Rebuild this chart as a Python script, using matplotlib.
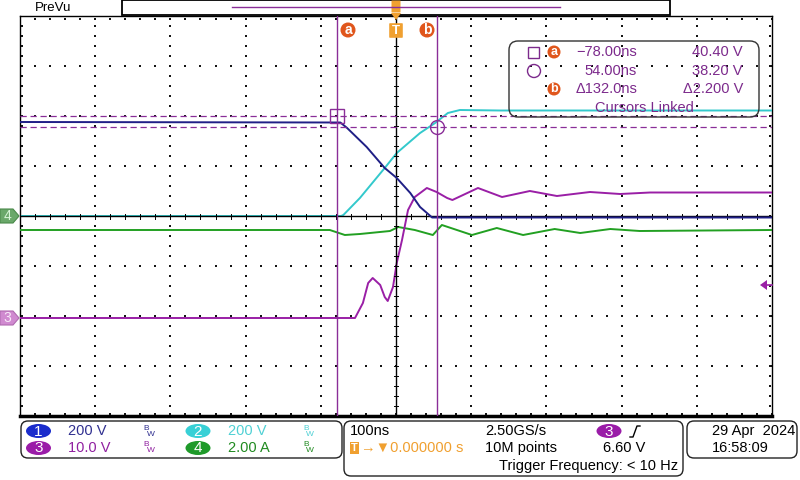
import numpy as np
import matplotlib
matplotlib.use('Agg')
import matplotlib.pyplot as plt
from matplotlib.patches import Rectangle, FancyBboxPatch, Circle, Polygon, Ellipse

plt.rcParams['font.family'] = ['Liberation Sans', 'DejaVu Sans']

# scope settings
t_div = 100          # ns/div
ch_scale = {1: 200, 2: 200, 3: 10, 4: 2.00}      # per div
ch_offset = {1: 0.0, 2: 0.0, 3: -2.04, 4: 0.0}   # ground marker position [div]
ch_color = {1: '#1f1f86', 2: '#33c9cc', 3: '#9a1fa6', 4: '#22a022'}

# waveforms (time [ns], value in channel units)
t1 = [-500, -74, -65, -39, -15, 1, 19, 32, 48, 500]
v1 = [376, 374, 352, 276, 192, 152, 92, 36, -6, -6]

t2 = [-500, -73, -70, -48, -15, 1, 32, 52, 69, 85, 138, 500]
v2 = [0, 0, 4, 72, 192, 252, 332, 372, 412, 424, 422, 422]

t3 = [-500, -54.5, -44, -37, -31, -21, -15, -11, -4, 1, 8, 16, 25, 41, 54, 68, 75,
      109, 141, 178, 214, 258, 298, 338, 500]
v3 = [0, 0, 3.0, 7.0, 8.0, 6.6, 4.2, 3.4, 6.2, 11.0, 15.6, 21.6, 24.2, 26.0, 25.2, 24.0, 23.6,
      26.0, 24.2, 25.4, 24.4, 25.2, 24.8, 25.1, 25.1]

t4 = [-500, -88, -68, -48, -8, 3, 25, 49, 61, 101, 134, 169, 211, 245, 285, 324, 500]
v4 = [-0.56, -0.56, -0.76, -0.72, -0.60, -0.44, -0.56, -0.76, -0.36, -0.76, -0.48,
      -0.76, -0.52, -0.68, -0.52, -0.60, -0.56]

# cursors (on channel 3)
cur_a = (-78.00, 40.40)
cur_b = (54.00, 38.20)
trig_level = 6.60

readout = [('−78.00ns', '40.40 V'), ('54.00ns', '38.20 V'), ('Δ132.0ns', 'Δ2.200 V')]
ch_labels = [('1', '200 V'), ('2', '200 V'), ('3', '10.0 V'), ('4', '2.00 A')]


def to_div(ch, v):
    return np.asarray(v) / ch_scale[ch] + ch_offset[ch]


fig = plt.figure(figsize=(8, 4.8), dpi=100)
ax = fig.add_axes([20 / 800, 64 / 480, 752 / 800, 400 / 480])
ax.set_xlim(-5 * t_div, 5 * t_div)
ax.set_ylim(-4, 4)
ax.set_xticks([])
ax.set_yticks([])
for s in ax.spines.values():
    s.set_color('black')
    s.set_linewidth(1.0)
ax.spines['bottom'].set_linewidth(2.5)

# dotted graticule
minor_t = np.arange(-500, 501, 20)
minor_y = np.arange(-4, 4.01, 0.2)
dot = dict(s=1.4, c='#151515', marker='s', linewidths=0, zorder=1)
for tx in range(-400, 401, 100):
    if tx == 0:
        continue
    ax.scatter(np.full(len(minor_y), tx), minor_y, **dot)
for yy in range(-3, 4):
    if yy == 0:
        continue
    ax.scatter(minor_t, np.full(len(minor_t), yy), **dot)
# border dots
ax.scatter(minor_t, np.full(len(minor_t), 3.95), **dot)
ax.scatter(minor_t, np.full(len(minor_t), -3.95), **dot)
ax.scatter(np.full(len(minor_y), -497), minor_y, **dot)
ax.scatter(np.full(len(minor_y), 497), minor_y, **dot)

# center axes with small ticks
ax.axhline(0, color='black', lw=1.0, zorder=4.5)
ax.axvline(0, color='black', lw=1.0, zorder=4.5)
for tx in minor_t:
    ax.plot([tx, tx], [-0.05, 0.05], color='black', lw=0.7, zorder=4.5)
for yy in minor_y:
    ax.plot([-3, 3], [yy, yy], color='black', lw=0.7, zorder=4.5)

# traces
ax.plot(t4, to_div(4, v4), color=ch_color[4], lw=1.4, zorder=3)
ax.plot(t3, to_div(3, v3), color=ch_color[3], lw=1.4, zorder=3)
ax.plot(t2, to_div(2, v2), color=ch_color[2], lw=1.4, zorder=4)
ax.plot(t1, to_div(1, v1), color=ch_color[1], lw=1.4, zorder=5)

# cursors
cur_col = '#8a2e98'
ax.axvline(cur_a[0], color=cur_col, lw=1.0, zorder=6)
ax.axvline(cur_b[0], color=cur_col, lw=1.0, zorder=6)
ax.axhline(to_div(3, cur_a[1]), color=cur_col, lw=0.9, ls=(0, (5, 3)), zorder=6)
ax.axhline(to_div(3, cur_b[1]), color=cur_col, lw=0.9, ls=(0, (5, 3)), zorder=6)
ax.plot(cur_a[0], to_div(3, cur_a[1]), marker='s', ms=10, mfc='none', mec=cur_col, mew=1.0, zorder=7)
ax.plot(cur_b[0], to_div(3, cur_b[1]), marker='o', ms=10, mfc='none', mec=cur_col, mew=1.0, zorder=7)

# overlay in pixel coordinates for the scope chrome
ov = fig.add_axes([0, 0, 1, 1], zorder=10)
ov.set_xlim(0, 800)
ov.set_ylim(480, 0)
ov.axis('off')
ov.patch.set_alpha(0)

orange = '#e0561c'
torange = '#f0a030'

# top bar
ov.text(35, 8, 'PreVu', fontsize=9.5, va='center', ha='left')
ov.add_patch(Rectangle((122, 0), 548, 15, fc='white', ec='black', lw=1.3))
ov.plot([232, 560], [7, 7], color=cur_col, lw=1.0)
ov.add_patch(FancyBboxPatch((392, 1), 8, 11, boxstyle='round,pad=0.5', fc=torange, ec='none'))
ov.add_patch(Polygon([(391, 13), (401, 13), (396, 20)], fc=torange, ec='none'))

# a / T / b markers
for xc, lab in [(348, 'a'), (427, 'b')]:
    ov.add_patch(Circle((xc, 30), 7.5, fc=orange, ec='none'))
    ov.text(xc, 30, lab, color='white', fontsize=10, fontweight='bold', ha='center', va='center')
ov.add_patch(FancyBboxPatch((390, 24), 12, 13, boxstyle='round,pad=0.8', fc=torange, ec='none'))
ov.text(396, 30.5, 'T', color='white', fontsize=9.5, fontweight='bold', ha='center', va='center')

# cursor readout
ov.add_patch(FancyBboxPatch((509, 41), 250, 76, boxstyle='round,pad=0,rounding_size=9',
                            fc='none', ec='#333333', lw=1.0))
txt_col = '#7c2a8c'
rows_y = [52, 71, 89]
ov.add_patch(Rectangle((528, 46.5), 11, 11, fc='none', ec=txt_col, lw=1.0))
ov.add_patch(Circle((534, 71), 6.5, fc='none', ec=txt_col, lw=1.0))
for yc, lab in [(52, 'a'), (89, 'b')]:
    ov.add_patch(Circle((554, yc), 6.5, fc=orange, ec='none'))
    ov.text(554, yc, lab, color='white', fontsize=9, fontweight='bold', ha='center', va='center')
for (tv, vv), yc in zip(readout, rows_y):
    ov.text(637, yc, tv, color=txt_col, fontsize=10.5, ha='right', va='center')
    ov.text(743, yc, vv, color=txt_col, fontsize=10.5, ha='right', va='center')
ov.text(644, 108, 'Cursors Linked', color=txt_col, fontsize=10.5, ha='center', va='center')

# left channel tags and trigger level marker
ov.add_patch(Polygon([(0, 209), (13, 209), (19, 216), (13, 223), (0, 223)], fc='#6aa86a', ec='#4a8a4a', lw=0.8))
ov.text(7, 216, '4', color='#d8f4d8', fontsize=10, ha='center', va='center')
yg3 = 216 - ch_offset[3] * 50
ov.add_patch(Polygon([(0, yg3 - 7), (13, yg3 - 7), (19, yg3), (13, yg3 + 7), (0, yg3 + 7)],
                     fc='#d08ad0', ec='#b06ab0', lw=0.8))
ov.text(7, yg3, '3', color='#f8e8f8', fontsize=10, ha='center', va='center')
ytr = 216 - to_div(3, trig_level) * 50
ov.add_patch(Polygon([(760, ytr), (767, ytr - 5), (767, ytr + 5)], fc=ch_color[3], ec='none'))
ov.plot([766, 772], [ytr, ytr], color=ch_color[3], lw=1.2)

# bottom panels
for x0, y0, w, h in [(21, 421, 321, 37), (344, 421, 339, 55), (687, 421, 110, 37)]:
    ov.add_patch(FancyBboxPatch((x0, y0), w, h, boxstyle='round,pad=0,rounding_size=7',
                                fc='none', ec='#222222', lw=1.0))

badge_col = {'1': '#1a2ccc', '2': '#38d0d6', '3': '#9a1ca8', '4': '#1f9a2a'}
text_col = {'1': '#303090', '2': '#4fd0d4', '3': '#9020a0', '4': '#208a20'}
pos = {'1': (38.5, 431), '2': (198, 431), '3': (38.5, 448), '4': (198, 448)}
for num, lab in ch_labels:
    xc, yc = pos[num]
    ov.add_patch(Ellipse((xc, yc), 25, 14, fc=badge_col[num], ec='none'))
    ov.text(xc, yc + 0.5, num, color='white', fontsize=11, ha='center', va='center')
    ov.text(xc + 29.5, yc, lab, color=text_col[num], fontsize=10.5, ha='left', va='center')
    ov.text(xc + 105, yc - 3, 'B', color=text_col[num], fontsize=6, ha='left', va='center')
    ov.text(xc + 108, yc + 3, 'W', color=text_col[num], fontsize=6, ha='left', va='center')

ov.text(350, 431, '100ns', fontsize=10.5, ha='left', va='center')
ov.add_patch(Rectangle((350, 442), 9, 12, fc=torange, ec='none'))
ov.text(354.5, 448, 'T', color='white', fontsize=8, fontweight='bold', ha='center', va='center')
ov.text(361, 448, '→▼0.000000 s', color=torange, fontsize=10.5, ha='left', va='center')
ov.text(485, 431, '2.50GS/s', fontsize=10.5, ha='left', va='center')
ov.text(485, 448, '10M points', fontsize=10.5, ha='left', va='center')
ov.add_patch(Ellipse((609, 431), 25, 14, fc=badge_col['3'], ec='none'))
ov.text(609, 431.5, '3', color='white', fontsize=11, ha='center', va='center')
ov.plot([630, 633, 637, 640], [437, 437, 426, 426], color='black', lw=1.0)
ov.text(603, 448, '6.60 V', fontsize=10.5, ha='left', va='center')
ov.text(678, 466, 'Trigger Frequency: < 10 Hz', fontsize=10.5, ha='right', va='center')
ov.text(712, 431, '29 Apr  2024', fontsize=10.5, ha='left', va='center')
ov.text(712, 448, '16:58:09', fontsize=10.5, ha='left', va='center')

fig.savefig('out.png', dpi=100)
